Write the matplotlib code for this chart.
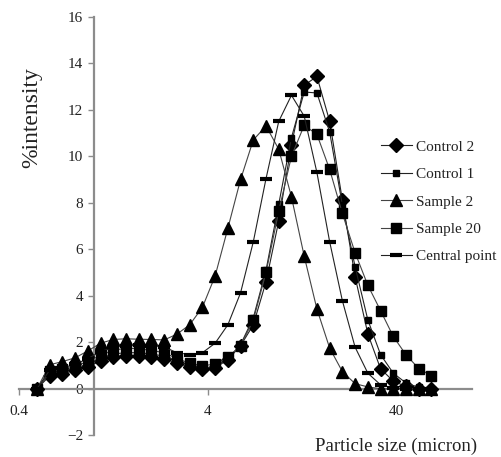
import matplotlib
matplotlib.use("Agg")
import matplotlib.pyplot as plt
from matplotlib.ticker import FixedLocator, NullLocator, FixedFormatter

plt.rcParams['font.family'] = ['Liberation Serif', 'DejaVu Serif']

# particle size bins (micron)
tamanos = [0.498, 0.581, 0.679, 0.793, 0.927, 1.082, 1.264, 1.476, 1.724, 2.013,
           2.351, 2.746, 3.207, 3.746, 4.375, 5.110, 5.968, 6.970, 8.140, 9.507,
           11.10, 12.97, 15.14, 17.69, 20.65, 24.12, 28.18, 32.91, 38.43, 44.89,
           52.43, 61.23]

control2 = [0, 0.55, 0.65, 0.8, 0.95, 1.2, 1.35, 1.42, 1.42, 1.38, 1.3, 1.1, 0.95, 0.85,
            0.9, 1.25, 1.85, 2.75, 4.6, 7.22, 10.5, 13.05, 13.43, 11.5, 8.11, 4.82, 2.36,
            0.86, 0.33, 0.1, 0, 0]
control1 = [0, 0.65, 0.75, 0.9, 1.05, 1.3, 1.5, 1.55, 1.55, 1.5, 1.4, 1.2, 1.0, 0.9,
            0.95, 1.3, 1.9, 3.05, 5.1, 7.94, 10.8, 12.76, 12.72, 11.04, 7.9, 5.25, 2.96,
            1.47, 0.67, 0.25, 0.06, 0]
sample2 = [0, 1.03, 1.17, 1.33, 1.63, 1.96, 2.12, 2.15, 2.13, 2.12, 2.1, 2.35, 2.75, 3.5,
           4.85, 6.9, 9.0, 10.7, 11.3, 10.3, 8.25, 5.7, 3.43, 1.75, 0.74, 0.22, 0.08,
           0, 0, 0, 0, 0]
sample20 = [0, 0.75, 0.85, 1.0, 1.15, 1.45, 1.65, 1.75, 1.72, 1.65, 1.55, 1.3, 1.1, 1.0,
            1.05, 1.35, 1.85, 2.95, 5.0, 7.64, 10.0, 11.33, 10.94, 9.43, 7.54, 5.85, 4.45,
            3.36, 2.25, 1.46, 0.87, 0.56]
central = [0, 0.8, 0.9, 1.05, 1.3, 1.6, 1.78, 1.85, 1.87, 1.85, 1.8, 1.55, 1.47, 1.55,
           1.96, 2.75, 4.13, 6.32, 9.04, 11.5, 12.62, 11.72, 9.3, 6.32, 3.79, 1.79, 0.67,
           0.17, 0.03, 0, 0, 0]

xticks = [0.4, 4, 40]
yticks = [-2, 0, 2, 4, 6, 8, 10, 12, 14, 16]

fig = plt.figure(figsize=(5.01, 4.57), dpi=100)
ax = fig.add_axes([0.0379, 0.0475, 0.9036, 0.916])

ax.plot(tamanos, control2, color='#222222', lw=0.8, marker='D', ms=7.5,
        mfc='black', mec='black', label='Control 2', zorder=3)
ax.plot(tamanos, control1, color='#222222', lw=0.8, marker='s', ms=4.5,
        mfc='black', mec='black', label='Control 1', zorder=3)
ax.plot(tamanos, sample2, color='#444444', lw=0.8, marker='^', ms=8.5,
        mfc='black', mec='black', label='Sample 2', zorder=3)
ax.plot(tamanos, sample20, color='#444444', lw=0.8, marker='s', ms=7,
        mfc='black', mec='black', label='Sample 20', zorder=3)
ax.plot(tamanos, central, color='#222222', lw=0.8, marker='_', ms=8, mew=3,
        mfc='black', mec='black', label='Central point', zorder=3)

ax.set_xscale('log')
ax.set_xlim(0.4, 100)
ax.set_ylim(-2, 16)

for s in ['top', 'right']:
    ax.spines[s].set_visible(False)
ax.spines['left'].set_position(('data', 1.0))
ax.spines['bottom'].set_position(('data', 0))
for s in ['left', 'bottom']:
    ax.spines[s].set_color('#8c8c8c')
    ax.spines[s].set_linewidth(1.6)

ax.xaxis.set_major_locator(FixedLocator(xticks))
ax.xaxis.set_major_formatter(FixedFormatter([str(t) for t in xticks]))
ax.xaxis.set_minor_locator(NullLocator())
ax.set_yticks(yticks)
ax.tick_params(axis='both', colors='#8c8c8c', labelcolor='#222222', labelsize=11,
               width=1, length=4)
ax.tick_params(axis='x', pad=8)
ax.tick_params(axis='y', pad=4)

fig.text(32 / 501, 1 - 118 / 457, '%intensity', rotation=90, ha='center',
         va='center', fontsize=17, color='#222222')
fig.text(396 / 501, 1 - 446 / 457, 'Particle size (micron)', ha='center',
         va='center', fontsize=13.5, color='#222222')

ax.legend(loc='upper left', bbox_to_anchor=(381 / 501, 1 - 140 / 457),
          bbox_transform=fig.transFigure, frameon=False, fontsize=11,
          handlelength=2.0, handletextpad=0.3, labelspacing=0.9,
          borderpad=0, borderaxespad=0, labelcolor='#222222')

fig.savefig('out.png', dpi=100)
